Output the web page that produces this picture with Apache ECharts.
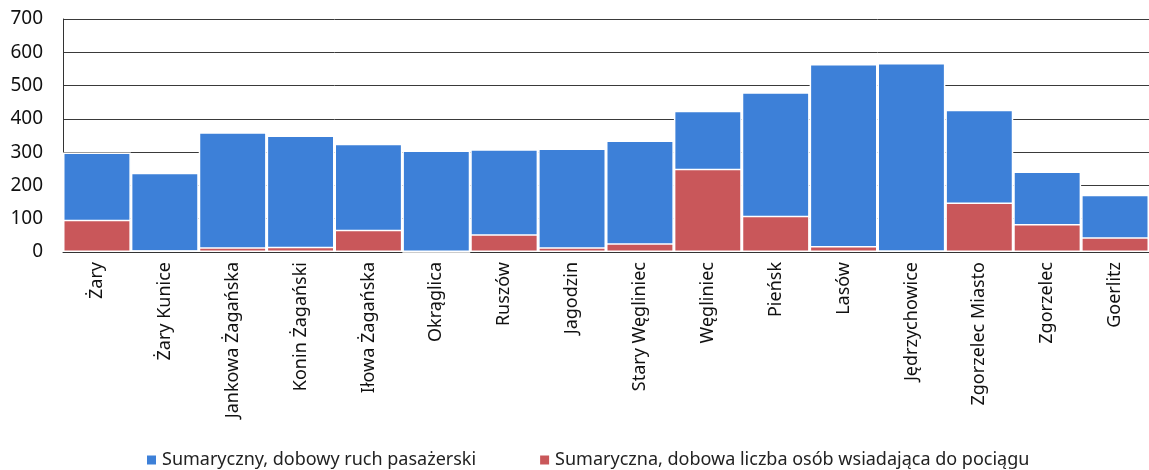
<!DOCTYPE html>
<html>
<head>
<meta charset="utf-8">
<script src="https://cdn.jsdelivr.net/npm/echarts@6/dist/echarts.min.js"></script>
<style>
  html, body { margin: 0; padding: 0; background: #fff; }
  #chart { width: 1149px; height: 470px; }
</style>
</head>
<body>
<div id="chart"></div>
<script>
const stations = ['Żary', 'Żary Kunice', 'Jankowa Żagańska', 'Konin Żagański', 'Iłowa Żagańska',
  'Okrąglica', 'Ruszów', 'Jagodzin', 'Stary Węgliniec', 'Węgliniec', 'Pieńsk', 'Lasów',
  'Jędrzychowice', 'Zgorzelec Miasto', 'Zgorzelec', 'Goerlitz'];
const totalTraffic = [299, 238, 360, 350, 325, 305, 309, 311, 335, 424, 480, 565, 568, 427, 242, 172];
const boarding = [97, 5, 14, 16, 67, 0, 53, 14, 26, 250, 109, 18, 4, 149, 84, 44];
const seriesNames = ['Sumaryczny, dobowy ruch pasażerski', 'Sumaryczna, dobowa liczba osób wsiadająca do pociągu'];

const chart = echarts.init(document.getElementById('chart'));
const font = 'Noto Sans';

chart.setOption({
  animation: false,
  textStyle: { fontFamily: font },
  grid: { left: 63, right: 0, top: 19, bottom: 218 },
  legend: {
    left: 140,
    top: 446,
    itemWidth: 11,
    itemHeight: 11,
    itemGap: 62,
    icon: 'rect',
    textStyle: { fontSize: 18, color: '#222', fontFamily: font },
    data: seriesNames
  },
  xAxis: {
    type: 'category',
    data: stations,
    axisLine: { lineStyle: { color: '#333', width: 1 } },
    axisTick: { show: false },
    axisLabel: { rotate: 90, fontSize: 18, color: '#111', margin: 10, interval: 0 }
  },
  yAxis: {
    type: 'value',
    min: 0,
    max: 700,
    interval: 100,
    axisLine: { show: true, lineStyle: { color: '#333', width: 1 } },
    axisTick: { show: false },
    axisLabel: { fontSize: 19, color: '#111', margin: 20 },
    splitLine: { lineStyle: { color: '#3a3a3a', width: 1 } }
  },
  series: [
    {
      name: seriesNames[0],
      type: 'bar',
      data: totalTraffic,
      barCategoryGap: 0,
      barGap: '-100%',
      itemStyle: { color: '#3d80d8', borderColor: '#fff', borderWidth: 1.5 }
    },
    {
      name: seriesNames[1],
      type: 'bar',
      data: boarding,
      barCategoryGap: 0,
      barGap: '-100%',
      itemStyle: { color: '#c9575a', borderColor: '#fff', borderWidth: 1.5 }
    }
  ]
});
</script>
</body>
</html>
